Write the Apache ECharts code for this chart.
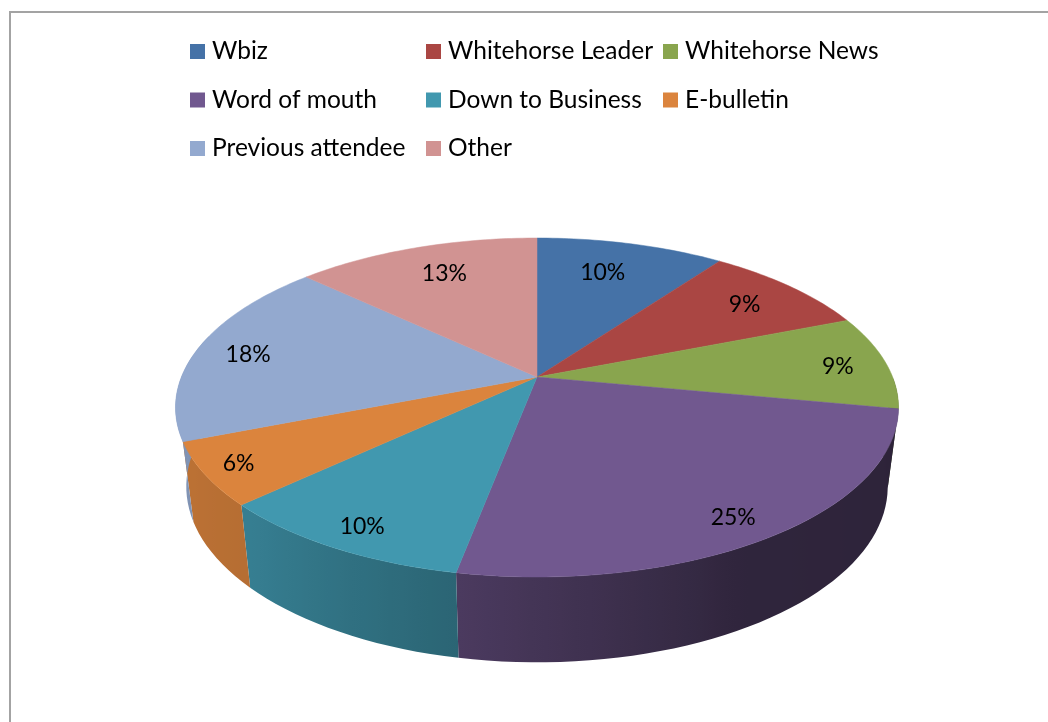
<!DOCTYPE html>
<html>
<head>
<meta charset="utf-8">
<style>html,body{margin:0;padding:0;background:#fff}#chart{width:1048px;height:722px}</style>
<script src="https://cdn.jsdelivr.net/npm/echarts@6/dist/echarts.min.js"></script>
</head>
<body>
<div id="chart"></div>
<script>
// How attendees heard about the event, in percent, clockwise from twelve o'clock.
const categories = ['Wbiz', 'Whitehorse Leader', 'Whitehorse News', 'Word of mouth',
  'Down to Business', 'E-bulletin', 'Previous attendee', 'Other'];
const percents = [10, 9, 9, 25, 10, 6, 18, 13];
const colors = ['#4572A7', '#AA4643', '#89A54E', '#71588F', '#4198AF', '#DB843D', '#93A9CF', '#D19392'];

// Label shifts in pixels, away from the default spot at 70% of the radius.
const labelShift = [[-3, -7], [25, -7.5], [56, 0.5], [40, 35], [-40, 36], [-73, 21], [-50, -1.5], [-4, -8.5]];

// Perspective of the tilted disc and the placement of its lower rim, in axis units.
const TILT = 0.18;
const LOWER = { dy: 78 / 164, sx: 345 / 355.6, sy: 170 / 164 };

// Side wall brightness by angle around the pie: [degrees, factor].
const wallLight = [[90, 0.4], [100, 0.4], [150, 0.42], [190, 0.66], [226, 0.83], [270, 0.88], [285, 0.88]];

function onDisc(deg, r) {
  const t = deg * Math.PI / 180;
  const x = r * Math.sin(t), y = -r * Math.cos(t);
  const d = 1 - TILT * y;
  return [x / d, y / d];
}
function onLower(deg) {
  const p = onDisc(deg, 1);
  return [p[0] * LOWER.sx, p[1] * LOWER.sy + LOWER.dy];
}
function lightAt(deg) {
  for (let i = 1; i < wallLight.length; i++) {
    const a = wallLight[i - 1], b = wallLight[i];
    if (deg <= b[0]) return a[1] + (b[1] - a[1]) * (deg - a[0]) / (b[0] - a[0]);
  }
  return wallLight[wallLight.length - 1][1];
}
function shade(hex, f) {
  const n = parseInt(hex.slice(1), 16);
  return 'rgb(' + [n >> 16 & 255, n >> 8 & 255, n & 255].map(c => Math.round(c * f)).join(',') + ')';
}

const startPercents = [];
percents.reduce((sum, p, i) => { startPercents[i] = sum; return sum + p; }, 0);

// The part of a slice's outer wall that faces the viewer, shaded left to right.
function wallElement(api, from, to, colour) {
  const a0 = Math.max(from, wallLight[0][0]);
  const a1 = Math.min(to, wallLight[wallLight.length - 1][0]);
  if (a1 <= a0) return null;
  const angles = [];
  for (let a = a0; a < a1; a += 2) angles.push(a);
  angles.push(a1);

  const upper = angles.map(a => api.coord(onDisc(a, 1)));
  const lower = angles.map(a => api.coord(onLower(a))).reverse();
  const xs = angles.map(a => api.coord(onLower(a))[0]);
  const xLeft = Math.min.apply(null, xs), xRight = Math.max.apply(null, xs);
  const span = Math.max(xRight - xLeft, 1);
  const stops = angles.map((a, i) => ({
    offset: (xs[i] - xLeft) / span,
    color: shade(colour, lightAt(a))
  })).sort((p, q) => p.offset - q.offset);

  return {
    type: 'polygon', z2: 1, silent: true,
    shape: { points: upper.concat(lower) },
    style: {
      fill: { type: 'linear', x: xLeft, y: 0, x2: xRight, y2: 0, global: true, colorStops: stops }
    }
  };
}

function renderSlice(params, api) {
  const index = params.seriesIndex;
  const from = api.value(0) * 3.6;
  const to = from + api.value(1) * 3.6;
  const colour = colors[index];
  const children = [];

  const wall = wallElement(api, from, to, colour);
  if (wall) children.push(wall);

  const top = [api.coord(onDisc(0, 0))];
  for (let a = from; a < to; a += 1) top.push(api.coord(onDisc(a, 1)));
  top.push(api.coord(onDisc(to, 1)));
  children.push({
    type: 'polygon', z2: 2, silent: true,
    shape: { points: top },
    style: { fill: colour, stroke: colour, lineWidth: 0.5 }
  });

  const at = api.coord(onDisc((from + to) / 2, 0.7));
  children.push({
    type: 'text', z2: 3, silent: true,
    style: {
      text: api.value(1) + '%',
      x: at[0] + labelShift[index][0], y: at[1] + labelShift[index][1],
      align: 'center', verticalAlign: 'middle',
      font: '23px Lato', fill: '#000'
    }
  });
  return { type: 'group', children: children };
}

function legendColumn(names, left) {
  return {
    data: names, left: left, top: 38.5, orient: 'vertical', padding: 0,
    icon: 'rect', itemWidth: 15, itemHeight: 15, itemGap: 22.5,
    selectedMode: false,
    textStyle: { fontFamily: 'Lato', fontSize: 24.5, color: '#000', padding: [0, 0, 0, 2], height: 26, lineHeight: 26 }
  };
}

const chart = echarts.init(document.getElementById('chart'), null, { renderer: 'canvas' });
chart.setOption({
  animation: false,
  backgroundColor: '#fff',
  tooltip: { show: false },
  graphic: [{
    type: 'polyline', silent: true,
    shape: { points: [[10, 722], [10, 12], [1048, 12]] },
    style: { stroke: '#a3a3a3', lineWidth: 2, fill: null }
  }],
  legend: [
    legendColumn(['Wbiz', 'Word of mouth', 'Previous attendee'], 190),
    legendColumn(['Whitehorse Leader', 'Down to Business', 'Other'], 426),
    legendColumn(['Whitehorse News', 'E-bulletin'], 663)
  ],
  // One axis unit equals the pie's radius on screen.
  grid: { left: 537 - 355.6, top: 377 - 164, width: 711.2, height: 328, containLabel: false },
  xAxis: { type: 'value', min: -1, max: 1, show: false },
  yAxis: { type: 'value', min: -1, max: 1, inverse: true, show: false },
  series: categories.map((name, i) => ({
    type: 'custom',
    name: name,
    coordinateSystem: 'cartesian2d',
    itemStyle: { color: colors[i] },
    clip: false,
    encode: { x: 0, y: 1 },
    data: [[startPercents[i], percents[i]]],
    renderItem: renderSlice
  }))
});
</script>
</body>
</html>
